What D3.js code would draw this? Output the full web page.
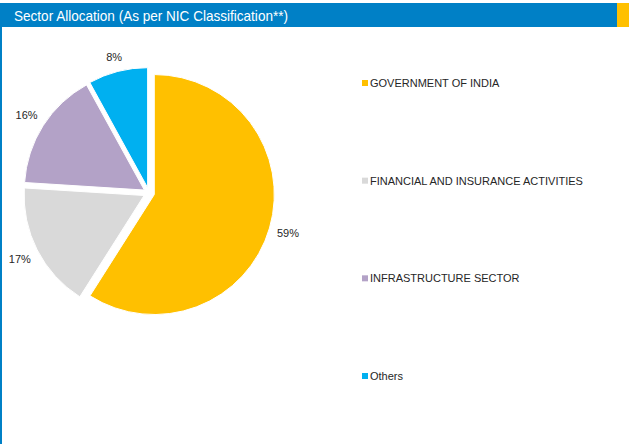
<!DOCTYPE html>
<html><head><meta charset="utf-8">
<script src="https://cdn.jsdelivr.net/npm/d3@7"></script>
<style>html,body{margin:0;padding:0;background:#fff;}svg{display:block;}</style>
</head><body>
<svg id="c" width="629" height="444"></svg>
<script>
const title = "Sector Allocation (As per NIC Classification**)";
const categories = ["GOVERNMENT OF INDIA", "FINANCIAL AND INSURANCE ACTIVITIES", "INFRASTRUCTURE SECTOR", "Others"];
const values = [59, 17, 16, 8];
const labels = ["59%", "17%", "16%", "8%"];
const colors = ["#FFC000", "#D9D9D9", "#B3A2C7", "#00B0F0"];

const svg = d3.select("#c");
// header
svg.append("rect").attr("x",0).attr("y",3).attr("width",617).attr("height",24).attr("fill","#0080C6");
svg.append("rect").attr("x",617).attr("y",3).attr("width",12).attr("height",24).attr("fill","#FFC000");
svg.append("rect").attr("x",0).attr("y",27).attr("width",2).attr("height",417).attr("fill","#0080C6");
svg.append("text").attr("x",14).attr("y",21).attr("fill","#fff")
  .attr("font-family","'Liberation Sans', Arial, sans-serif").attr("font-size",15)
  .attr("textLength",274).attr("lengthAdjust","spacingAndGlyphs").text(title);

const cx = 149, cy = 193, r = 120, explode = 5.5, pad = 7;
const pie = d3.pie().sort(null).value(d => d)(values);
const arc = d3.arc().innerRadius(0).outerRadius(r);
const g = svg.append("g").attr("transform", `translate(${cx},${cy})`);
pie.forEach((p, i) => {
  const a = (p.startAngle + p.endAngle) / 2;
  const s = Math.sin(a), c = -Math.cos(a);
  g.append("path").attr("d", arc(p)).attr("fill", colors[i])
    .attr("stroke", "#fff").attr("stroke-width", 1)
    .attr("transform", `translate(${s*explode},${c*explode})`);
  const t = g.append("text").attr("text-anchor","middle").attr("dominant-baseline","central")
    .attr("font-family","'Liberation Sans', Arial, sans-serif").attr("font-size",11)
    .attr("fill","#262626").text(labels[i]);
  const hw = t.node().getComputedTextLength()/2, hh = 6;
  const d = r + explode + pad + Math.abs(s)*hw + Math.abs(c)*hh;
  t.attr("x", s*d).attr("y", c*d);
});

// legend
const ly = d3.scalePoint().domain(categories).range([83, 376]);
const lg = svg.append("g");
categories.forEach((c, i) => {
  lg.append("rect").attr("x",362).attr("y",ly(c)-3).attr("width",6).attr("height",6).attr("fill",colors[i]);
  lg.append("text").attr("x",370).attr("y",ly(c)).attr("dominant-baseline","central")
    .attr("font-family","'Liberation Sans', Arial, sans-serif").attr("font-size",11)
    .attr("fill","#262626").text(c);
});
</script>
</body></html>
